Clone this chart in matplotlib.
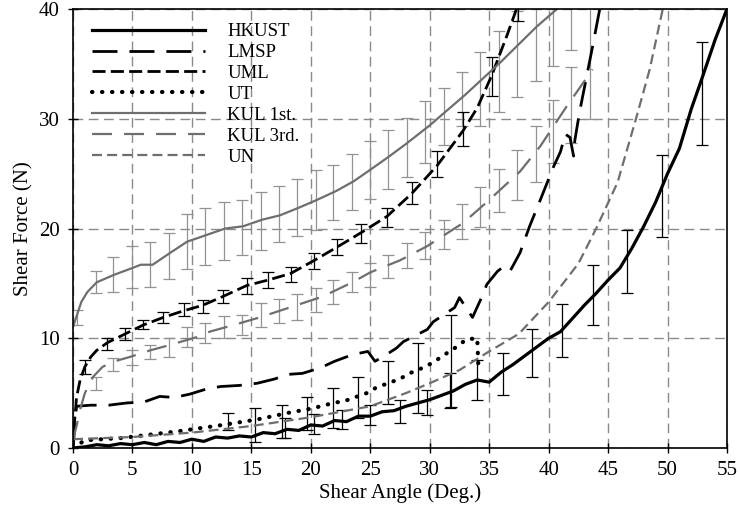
import numpy as np
import matplotlib.pyplot as plt

plt.rcParams['font.family'] = ['Liberation Serif', 'DejaVu Serif']

# ---- data (shear angle in deg, shear force in N) ----
hk_x = [0, 1, 2, 3, 4, 5, 6, 7, 8, 9, 10, 11, 12, 13, 14, 15, 16, 17, 18, 19,
        20, 21, 22, 23, 24, 25, 26, 27, 28, 29, 30, 31, 32, 33, 34, 35, 36, 37,
        38, 39, 40, 41, 42, 43, 44, 45, 46, 47, 48, 49, 50, 51, 52, 53, 54, 55]
hk_y = [0, 0.1, 0.3, 0.2, 0.4, 0.3, 0.5, 0.3, 0.6, 0.5, 0.8, 0.6, 1.0, 0.9,
        1.1, 1.0, 1.4, 1.3, 1.7, 1.6, 2.1, 2.0, 2.5, 2.4, 2.9, 2.9, 3.3, 3.4,
        3.8, 4.1, 4.4, 4.8, 5.2, 5.8, 6.2, 6.0, 6.9, 7.6, 8.4, 9.2, 10.0, 10.6,
        11.8, 13.0, 14.1, 15.3, 16.4, 18.2, 20.2, 22.4, 25.0, 27.3, 30.9, 34.0,
        37.2, 40.0]

lm_x = [0, 0.2, 0.3, 1.5, 3, 4.5, 6, 7.3, 8.5, 9.8, 11, 12.4, 14, 15.5, 17,
        18, 19.3, 20.8, 22, 23.5, 24.8, 25.4, 26.2, 27.2, 27.8, 29.8, 30.3,
        32.1, 32.5, 33.6, 34.4, 34.8, 35.7, 36.3, 36.8, 37.6, 38.4, 39.3, 40.4,
        41.0, 41.4, 41.8, 42.1, 42.2, 42.6, 43.7, 44.3]
lm_y = [0, 2.5, 3.8, 3.9, 3.9, 4.1, 4.2, 4.7, 4.6, 4.9, 5.3, 5.6, 5.7, 5.9,
        6.3, 6.7, 6.8, 7.3, 7.9, 8.5, 8.8, 7.9, 8.4, 9.1, 9.7, 10.8, 11.5,
        12.8, 13.7, 11.9, 13.8, 14.9, 16.1, 16.6, 16.2, 17.8, 20.2, 22.6, 25.6,
        27.0, 28.6, 28.3, 26.6, 28.0, 30.6, 36.6, 40.0]

uml_x = [0, 0.1, 0.3, 0.6, 1.0, 1.5, 2.0, 2.9, 4.4, 5.9, 7.6, 9.3, 10.9,
         12.6, 14.6, 16.4, 18.3, 20.3, 22.2, 24.2, 26.4, 28.5, 30.6, 32.8,
         34.0, 35.2, 36.5, 37.3]
uml_y = [0, 2.0, 4.6, 6.2, 7.4, 8.3, 8.9, 9.6, 10.4, 11.2, 11.9, 12.5, 13.0,
         13.8, 14.8, 15.3, 15.9, 17.1, 18.3, 19.6, 21.1, 23.2, 25.7, 28.9,
         31.0, 33.9, 37.6, 40.0]

ut_x = [0, 1, 4, 8.7, 12.6, 15.5, 18.1, 20.1, 21.9, 22.9, 24.7, 25.5, 26.5,
        27.5, 28.3, 29.4, 30.3, 31.1, 32.1, 33.1, 34.0, 34.1]
ut_y = [0, 0.7, 0.9, 1.5, 2.1, 2.6, 3.2, 3.6, 4.1, 4.3, 5.0, 5.5, 5.9, 6.3,
        6.8, 7.3, 7.8, 8.4, 9.1, 9.9, 10.0, 7.2]

k1_x = [0, 0.3, 0.7, 1.2, 2.0, 3.5, 5.0, 5.7, 6.7, 8.2, 9.6, 11.2, 12.8, 14.3,
        15.9, 17.4, 19.0, 20.5, 22.1, 23.6, 24.8, 26.5, 28.0, 30.0, 31.5, 33.0,
        34.5, 36.0, 37.5, 39.0, 40.7, 42.0]
k1_y = [11.0, 12.0, 13.3, 14.2, 15.1, 15.8, 16.4, 16.7, 16.7, 17.8, 18.8,
        19.4, 20.0, 20.2, 20.8, 21.2, 21.9, 22.6, 23.4, 24.3, 25.2, 26.5, 27.7,
        29.4, 30.8, 32.2, 33.7, 35.2, 36.8, 38.4, 40.0, 41.4]

k3_x = [0, 0.3, 0.6, 1.0, 1.7, 2.5, 3.5, 4.8, 6.5, 8.2, 10.4, 11.5, 13.5,
        15.7, 18.5, 21.0, 23.5, 25.0, 27.5, 29.8, 32.8, 34.8, 37.6, 39.3, 41.5,
        43.7]
k3_y = [0.7, 2.0, 3.5, 5.0, 6.5, 7.4, 7.9, 8.3, 8.9, 9.4, 10.1, 10.6, 11.2,
        11.9, 12.9, 13.8, 15.1, 16.0, 17.1, 18.4, 20.5, 22.4, 25.2, 27.5, 31.1,
        34.5]

un_x = [0, 5, 10, 15, 20, 25, 28, 30, 32.5, 35, 37.5, 40, 42.5, 44, 45.8,
        47.4, 48.5, 49.6]
un_y = [0.8, 1.0, 1.4, 2.0, 2.8, 3.8, 5.0, 5.9, 7.1, 8.8, 10.4, 13.3, 16.8,
        20.0, 24.2, 30.2, 34.5, 40.0]

# error bars: position, centre, half height
k1_ex = [0.35, 1.9, 3.4, 5.0, 6.5, 8.1, 9.6, 11.1, 12.7, 14.2, 15.8, 17.3,
         18.8, 20.4, 21.9, 23.5, 25.0, 26.5, 28.1, 29.6, 31.2, 32.7, 34.2, 35.8,
         37.3, 38.9, 40.4, 41.9]
k1_ey = [11.9, 15.1, 15.8, 16.5, 16.7, 17.5, 18.8, 19.3, 19.8, 20.1, 20.7,
         21.3, 21.9, 22.6, 23.3, 24.2, 25.3, 26.3, 27.4, 28.8, 30.2, 31.8, 32.7,
         34.3, 35.9, 37.4, 39.0, 40.5]
k1_eh = [0.7, 1.0, 1.6, 1.9, 2.05, 2.1, 2.5, 2.6, 2.65, 2.5, 2.65, 2.55, 2.6,
         2.75, 2.5, 2.55, 2.65, 2.7, 2.7, 2.8, 2.6, 2.5, 3.4, 3.7, 3.9, 4.0,
         4.2, 4.2]

k3_ex = [1.9, 3.4, 5.0, 6.5, 8.1, 9.6, 11.1, 12.7, 14.2, 15.8, 17.3, 18.8,
         20.4, 21.9, 23.5, 25.0, 26.5, 28.1, 29.6, 31.2, 32.7, 34.2, 35.8, 37.3,
         38.9, 40.4, 41.9, 43.5]
k3_ey = [5.9, 7.6, 8.25, 8.75, 9.15, 10.1, 10.5, 11.0, 11.2, 12.1, 12.5, 12.85,
         13.5, 14.2, 15.1, 15.8, 16.55, 17.55, 18.45, 19.45, 20.6, 21.95, 23.45,
         24.9, 26.75, 28.85, 31.25, 35.5]
k3_eh = [0.6, 0.6, 0.7, 0.65, 0.85, 0.9, 0.9, 1.0, 0.9, 1.1, 1.1, 1.15, 1.1,
         1.1, 0.9, 1.1, 1.05, 1.15, 1.25, 1.35, 1.6, 1.85, 1.95, 2.3, 2.55,
         2.85, 3.45, 5.5]

uml_ex = [1.0, 2.9, 4.4, 5.9, 7.6, 9.3, 10.9, 12.6, 14.6, 16.4, 18.3, 20.3,
          22.2, 24.2, 26.4, 28.5, 30.6, 32.8, 35.2, 37.4]
uml_ey = [7.35, 9.5, 10.4, 11.25, 11.9, 12.6, 12.9, 13.8, 14.75, 15.3, 15.8,
          17.05, 18.3, 19.55, 21.0, 23.2, 25.85, 29.05, 33.85, 40.5]
uml_eh = [0.65, 0.55, 0.55, 0.45, 0.5, 0.6, 0.6, 0.6, 0.75, 0.7, 0.7, 0.75,
          0.7, 0.85, 0.9, 1.0, 1.2, 1.55, 1.75, 1.6]

ut_ex = [13.0, 15.3, 17.6, 19.7, 21.9, 24.0, 26.5, 29.0, 31.8]
ut_ey = [2.4, 2.05, 2.4, 3.15, 3.65, 4.6, 5.95, 6.4, 7.9]
ut_eh = [0.8, 1.55, 1.5, 1.5, 1.85, 1.9, 1.95, 3.2, 4.2]

hk_ex = [17.8, 20.3, 22.6, 25.0, 27.5, 29.8, 31.7, 34.0, 36.2, 38.6, 41.1,
         43.7, 46.6, 49.5, 52.9]
hk_ey = [1.8, 2.2, 2.6, 3.0, 3.35, 4.15, 5.2, 6.2, 6.75, 8.65, 10.7, 13.95,
         17.0, 22.95, 32.3]
hk_eh = [0.9, 0.9, 0.9, 0.9, 1.05, 1.15, 1.6, 1.8, 1.95, 2.15, 2.4, 2.75, 2.9,
         3.75, 4.7]

gray = '#6e6e6e'
egray = '#929292'

fig = plt.figure(figsize=(7.4, 5.17), dpi=100)
ax = fig.add_axes([0.0986, 0.1335, 0.8838, 0.849])

ax.grid(True, color='#8a8a8a', ls=(0, (7, 4)), lw=1.0)
ax.set_axisbelow(True)

ekw = dict(fmt='none', elinewidth=0.9, capsize=4.5, capthick=0.9)
ax.errorbar(k1_ex, k1_ey, yerr=k1_eh, ecolor=egray, **ekw)
ax.errorbar(k3_ex, k3_ey, yerr=k3_eh, ecolor=egray, **ekw)
ax.errorbar(uml_ex, uml_ey, yerr=uml_eh, ecolor='k', **ekw)
ax.errorbar(ut_ex, ut_ey, yerr=ut_eh, ecolor='k', **ekw)
ax.errorbar(hk_ex, hk_ey, yerr=hk_eh, ecolor='k', **ekw)

ax.plot(hk_x, hk_y, color='k', lw=2.3, label='HKUST')
ax.plot(lm_x, lm_y, color='k', lw=2.0, dashes=(9, 4.3), label='LMSP')
ax.plot(uml_x, uml_y, color='k', lw=2.0, dashes=(4.7, 1.9), label='UML')
ax.plot(ut_x, ut_y, color='k', lw=3.0, dashes=(0.1, 2.3),
        dash_capstyle='round', label='UT')
ax.plot(k1_x, k1_y, color=gray, lw=1.6, label='KUL 1st.')
ax.plot(k3_x, k3_y, color=gray, lw=1.6, dashes=(9, 5.4), label='KUL 3rd.')
ax.plot(un_x, un_y, color=gray, lw=1.6, dashes=(4.5, 2.3), label='UN')

ax.set_xlim(0, 55)
ax.set_ylim(0, 40)
ax.set_xticks(range(0, 56, 5))
ax.set_yticks(range(0, 41, 10))
ax.tick_params(direction='inout', length=7, width=1, labelsize=15, pad=6)
for s in ax.spines.values():
    s.set_linewidth(1.2)

ax.set_xlabel('Shear Angle (Deg.)', fontsize=15, labelpad=2)
ax.set_ylabel('Shear Force (N)', fontsize=15, labelpad=4)

ax.legend(loc='upper left', bbox_to_anchor=(0.018, 0.985), borderaxespad=0,
          frameon=False, fontsize=13.5, handlelength=6.0, handletextpad=1.2,
          labelspacing=0.2)

fig.savefig('out.png', dpi=100)
